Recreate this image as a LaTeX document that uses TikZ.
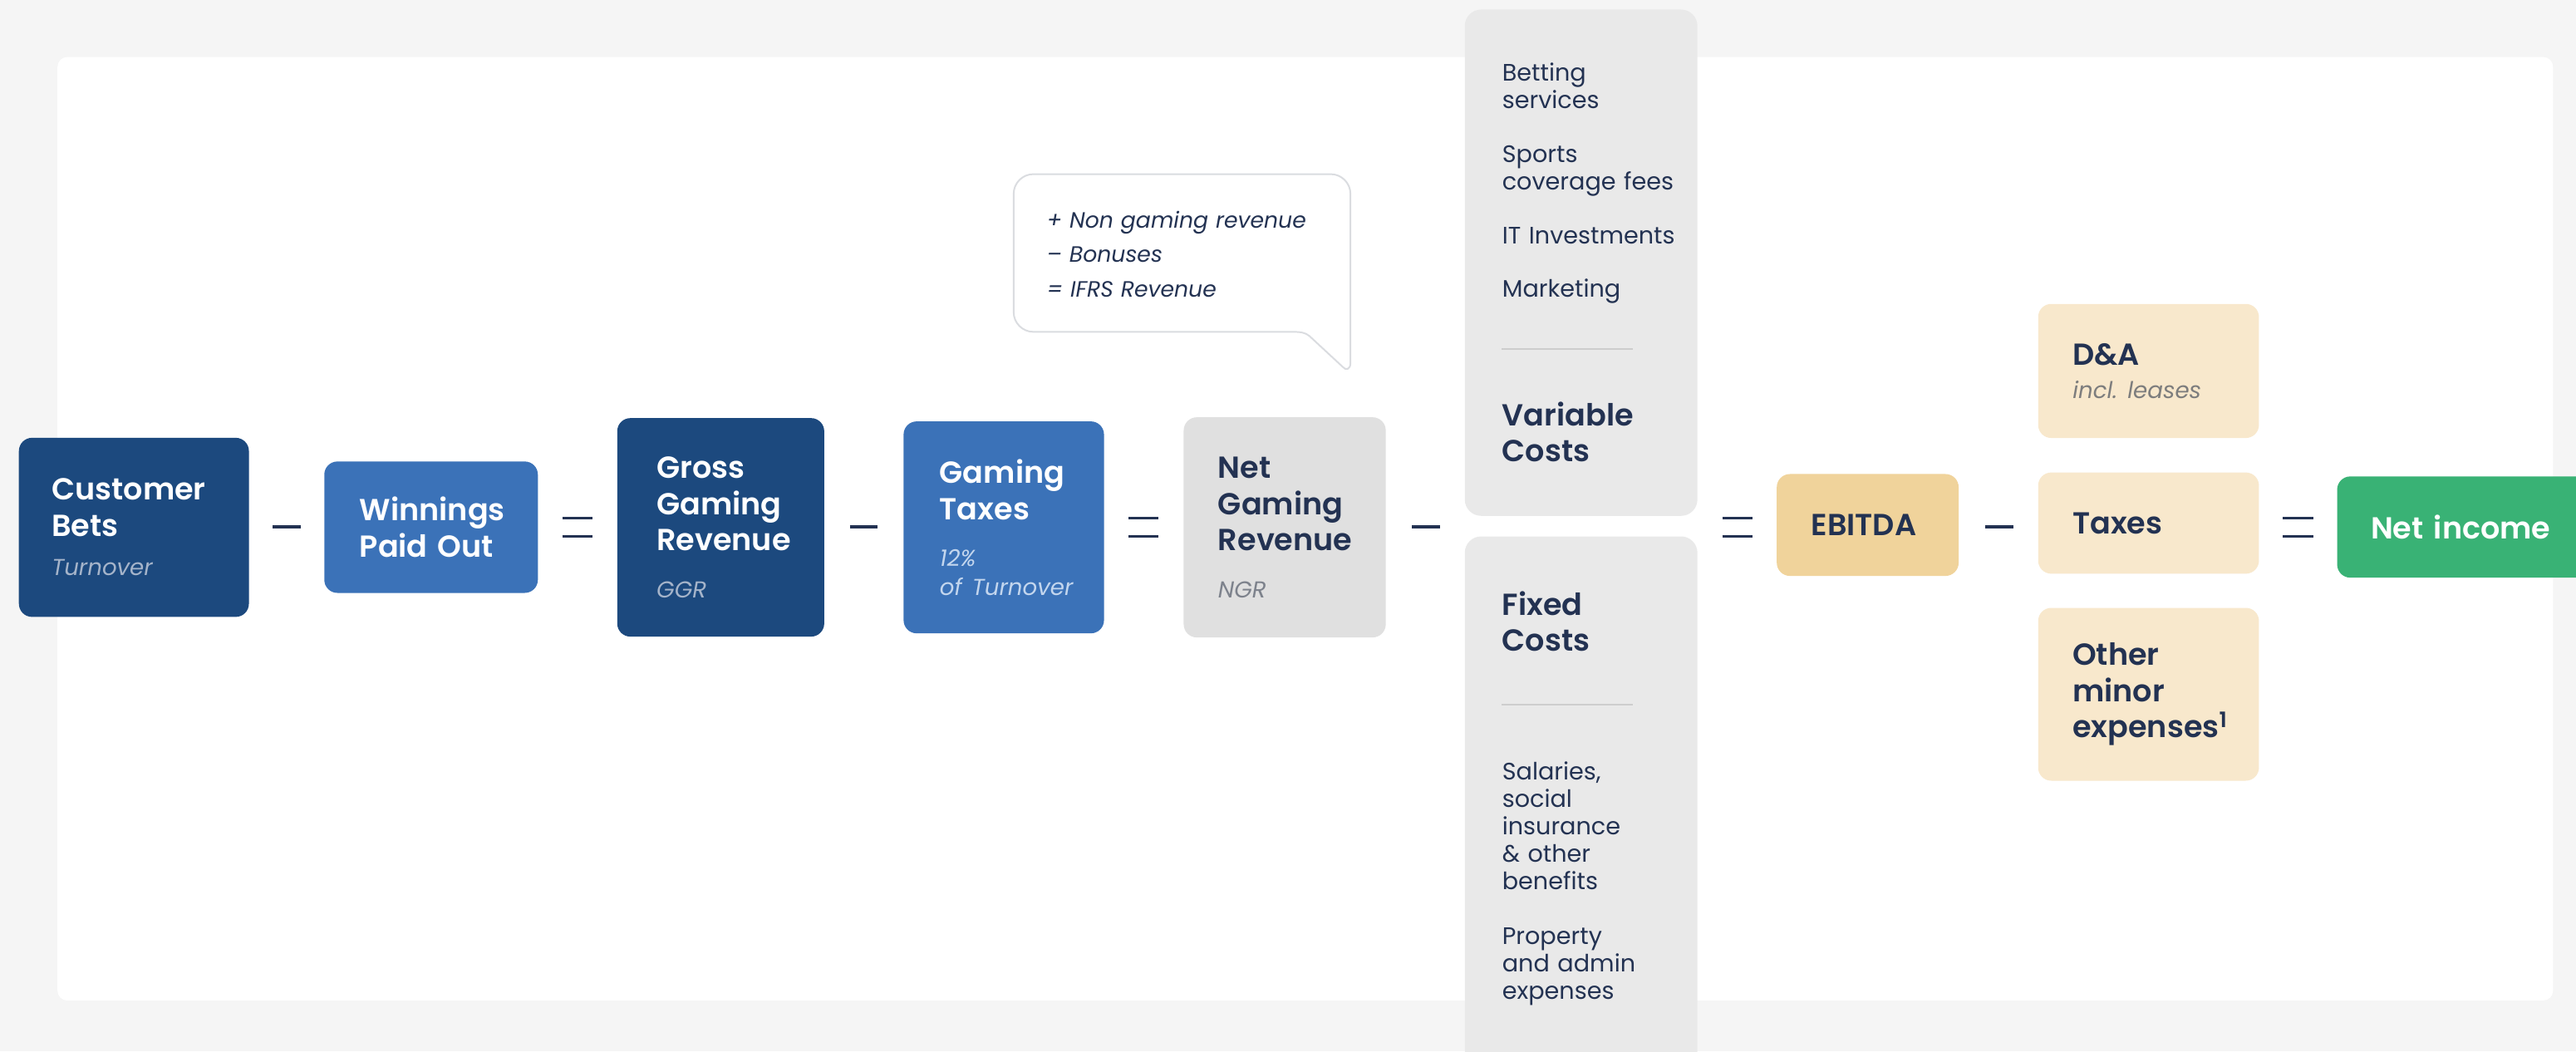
\documentclass[tikz,border=0pt]{standalone}
\usepackage{fontspec}
\setmainfont{Poppins}[BoldFont={Poppins SemiBold}, BoldItalicFont={Poppins SemiBold Italic}]

\newcommand{\tilenote}[2][5pt]{\par\vspace{#1}{\fontsize{14}{17.5}\selectfont\mdseries\itshape\color{notecol}#2\par}}

\begin{document}
\begin{tikzpicture}[x=1pt,y=-1pt,
    tile/.style={rounded corners=8pt, inner xsep=21pt, inner ysep=0pt, align=left,
      font=\fontsize{18.5}{22}\selectfont\bfseries, text=navy},
    darktile/.style={tile, fill=darkblue, text=white, execute at begin node={\colorlet{notecol}{darknote}}},
    midtile/.style={tile, fill=midblue, text=white, execute at begin node={\colorlet{notecol}{midnote}}},
    greytile/.style={tile, fill=ngrgrey, execute at begin node={\colorlet{notecol}{greynote}}},
    sandtile/.style={tile, fill=sand, minimum width=134.4pt, text width=92.4pt,
      execute at begin node={\colorlet{notecol}{sandnote}}},
    costbox/.style={fill=costgrey, rounded corners=10pt, inner sep=0pt},
    costitem/.style={anchor=base west, inner sep=0pt, align=left, text width=115pt,
      font=\fontsize{14.5}{16.7}\selectfont, text=navy},
    costhead/.style={costitem, font=\fontsize{18.5}{22}\selectfont\bfseries},
    rule/.style={draw=rulegrey, line width=1pt},
    opline/.style={draw=navy, line width=1.6pt},
  ]

\definecolor{pagebg}{RGB}{245,245,245}
\definecolor{darkblue}{RGB}{28,73,126}
\definecolor{midblue}{RGB}{59,114,184}
\definecolor{ngrgrey}{RGB}{224,224,224}
\definecolor{costgrey}{RGB}{233,233,233}
\definecolor{ebitdasand}{RGB}{240,211,155}
\definecolor{sand}{RGB}{248,232,204}
\definecolor{netgreen}{RGB}{57,178,117}
\definecolor{navy}{RGB}{35,50,82}
\definecolor{darknote}{RGB}{165,180,202}
\definecolor{midnote}{RGB}{195,214,238}
\definecolor{greynote}{RGB}{125,130,140}
\definecolor{sandnote}{RGB}{125,125,125}
\definecolor{rulegrey}{RGB}{205,205,205}
\definecolor{bubbleline}{RGB}{218,220,224}

\useasboundingbox (0,0) rectangle (1568,640);
\fill[pagebg] (0,0) rectangle (1568,640);
\fill[white, rounded corners=6pt] (35,34.7) rectangle (1554,609);

\node[darktile, minimum width=140pt, minimum height=109pt, text width=100pt, inner xsep=20pt] (bets) at (81.5,321) {Customer\\Bets\tilenote[6.5pt]{Turnover}};
\node[midtile, minimum width=130pt, minimum height=80pt, text width=87pt, inner xsep=21.5pt] (win) at (262.4,320.9) {Winnings\\Paid Out};
\node[darktile, minimum width=126pt, minimum height=133pt, text width=78pt, inner xsep=24pt] (ggr) at (438.7,321) {Gross\\Gaming\\Revenue\tilenote[11pt]{GGR}};
\node[midtile, minimum width=122pt, minimum height=129pt, text width=78pt, inner xsep=22pt] (gtax) at (611,321) {Gaming\\Taxes\tilenote[11pt]{12\%\\\mbox{of Turnover}}};
\node[greytile, minimum width=123pt, minimum height=134pt, text width=81pt] (ngr) at (782,321) {Net\\Gaming\\Revenue\tilenote[11pt]{NGR}};

\node[costbox, minimum width=141.6pt, minimum height=308.2pt] (varcost) at (962.4,159.9) {};
\node[costbox, minimum width=141.6pt, minimum height=340pt] (fixcost) at (962.4,496.5) {};

\node[costitem] (varlist) at (914.2,49.5) {Betting\\services\\[16pt]Sports\\coverage fees\\[16pt]IT Investments\\[16pt]Marketing};
\draw[rule] (914.2,212.2) -- (994,212.2);
\node[costhead] (varhead) at (914.2,259) {Variable\\Costs};

\node[costhead] (fixhead) at (914.2,374.5) {Fixed\\Costs};
\draw[rule] (914.2,428.9) -- (994,428.9);
\node[costitem] (fixlist) at (914.2,474.5) {Salaries,\\social\\insurance\\\& other\\benefits\\[17pt]Property\\and admin\\expenses};

\node[tile, fill=ebitdasand, minimum width=110.7pt, minimum height=62pt, text width=68.7pt] (ebitda) at (1136.85,319.55) {EBITDA};
\node[sandtile, minimum height=81.6pt] (da) at (1307.8,225.8) {D\&A\tilenote[2.5pt]{incl.\ leases}};
\node[sandtile, minimum height=61.6pt] (taxes) at (1307.8,318.4) {Taxes};
\node[sandtile, minimum height=105.2pt] (other) at (1307.8,422.6) {Other\\minor\\expenses\textsuperscript{1}};
\node[tile, fill=netgreen, text=white, minimum width=167.4pt, minimum height=61.6pt, text width=126.4pt, inner xsep=20.5pt] (net) at (1506.3,320.8) {Net income};

\draw[bubbleline, fill=white, line width=1pt] (629,106) -- (810,106) .. controls (816.6,106) and (822,111.4) .. (822,118)
  -- (822,221) .. controls (822,225) and (819,225.5) .. (817.5,223.5) -- (797,204.5)
  .. controls (794.5,202.5) and (792,202) .. (787,202) -- (629,202)
  .. controls (622.4,202) and (617,196.6) .. (617,190) -- (617,118)
  .. controls (617,111.4) and (622.4,106) .. (629,106) -- cycle;
\node[anchor=base west, inner sep=0pt, align=left, text width=180pt, font=\fontsize{13.5}{21}\selectfont\itshape, text=navy] (bubtext) at (637.1,138.6) {+ Non gaming revenue\\-- Bonuses\\= IFRS Revenue};

\foreach \x in {174.6,525.8,868.1,1216.8} \draw[opline] (\x-8.5,320.7) -- (\x+8.5,320.7);
\foreach \x in {351.4,696,1057.5,1398.8} {
  \draw[opline] (\x-9.2,315.3) -- (\x+9.2,315.3);
  \draw[opline] (\x-9.2,326.3) -- (\x+9.2,326.3);
}
\end{tikzpicture}
\end{document}
